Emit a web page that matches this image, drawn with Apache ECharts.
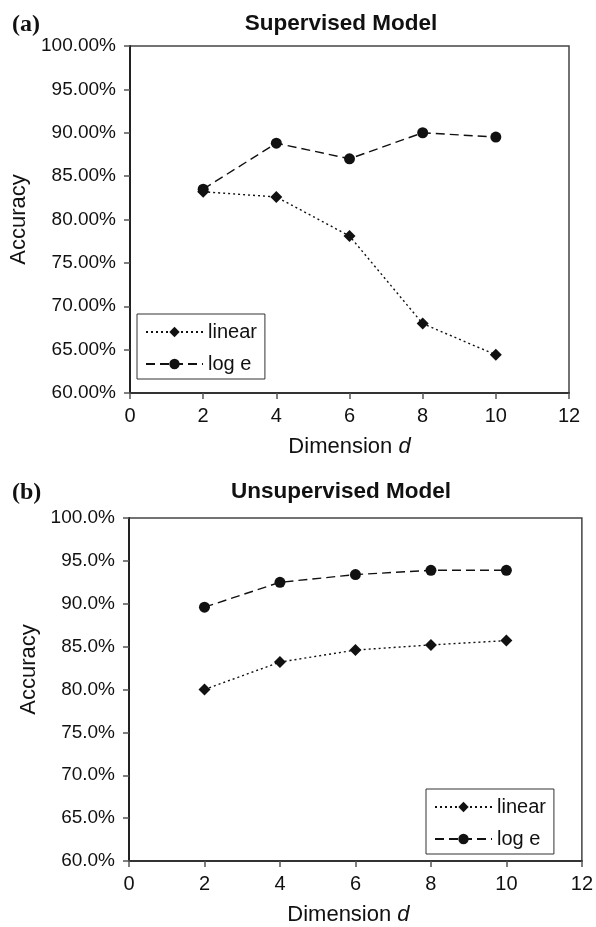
<!DOCTYPE html>
<html>
<head>
<meta charset="utf-8">
<script src="https://cdn.jsdelivr.net/npm/echarts@6/dist/echarts.min.js"></script>
<style>
  html, body { margin: 0; padding: 0; background: #fff; }
  #charts { width: 596px; height: 927px; }
</style>
</head>
<body>
<div id="charts"></div>
<script>
// dimension d values
const dims = [2, 4, 6, 8, 10];
// (a) supervised model, accuracy in %
const supLinear = [83.2, 82.6, 78.1, 68.0, 64.4];
const supLog = [83.5, 88.8, 87.0, 90.0, 89.5];
// (b) unsupervised model, accuracy in %
const unsupLinear = [80.0, 83.2, 84.6, 85.2, 85.7];
const unsupLog = [89.6, 92.5, 93.4, 93.9, 93.9];
const seriesNames = ['linear', 'log e'];

const font = 'Liberation Sans, Arial, Helvetica, sans-serif';
const serif = 'Liberation Serif, Times New Roman, serif';
const ink = '#111';

function pairs(vals) {
    return dims.map((d, i) => [d, vals[i]]);
}

function xAxis(idx, nameRightPad) {
    return {
        type: 'value', gridIndex: idx, min: 0, max: 12, interval: 2,
        name: 'Dimension {i|d}', nameLocation: 'middle', nameGap: 43,
        nameTextStyle: {
            fontFamily: font, fontSize: 22, color: ink,
            padding: [0, nameRightPad, 0, 0],
            rich: { i: { fontFamily: font, fontSize: 22, fontStyle: 'italic', color: ink } }
        },
        axisLine: { show: true, onZero: false, lineStyle: { color: '#333', width: 2 } },
        axisTick: { show: true, length: 6, lineStyle: { color: '#555', width: 1.5 } },
        axisLabel: { fontFamily: font, fontSize: 20, color: ink, margin: 13 },
        splitLine: { show: false }
    };
}

function yAxis(idx, decimals, gap, upShift) {
    return {
        type: 'value', gridIndex: idx, min: 60, max: 100, interval: 5,
        name: 'Accuracy', nameLocation: 'middle', nameGap: gap,
        nameTextStyle: { fontFamily: font, fontSize: 22, color: ink, padding: [0, 0, 0, upShift] },
        axisLine: { show: true, onZero: false, lineStyle: { color: '#222', width: 2 } },
        axisTick: { show: true, length: 6, lineStyle: { color: '#555', width: 1.5 } },
        axisLabel: {
            fontFamily: font, fontSize: 19, color: ink, margin: 14,
            formatter: v => v.toFixed(decimals) + '%'
        },
        splitLine: { show: false }
    };
}

function lineSeries(name, idx, vals) {
    const isLinear = name === 'linear';
    return {
        name: name, type: 'line', xAxisIndex: idx, yAxisIndex: idx,
        data: pairs(vals),
        symbol: isLinear ? 'diamond' : 'circle',
        symbolSize: isLinear ? 12 : 11,
        itemStyle: { color: ink },
        lineStyle: { color: ink, width: 1.4, type: isLinear ? [2, 3] : [9, 5] }
    };
}

function legend(left, top) {
    return {
        data: seriesNames, orient: 'vertical', left: left, top: top,
        itemWidth: 57, itemHeight: 13, itemGap: 12,
        padding: [8, 8, 5, 8],
        borderColor: '#333', borderWidth: 1,
        textStyle: { fontFamily: font, fontSize: 20, color: ink, lineHeight: 20 },
        selectedMode: false
    };
}

function title(text, left, top, size, family) {
    return {
        text: text, left: left, top: top, textAlign: family === serif ? 'left' : 'center',
        textStyle: { fontFamily: family, fontSize: size, fontWeight: 'bold', color: ink }
    };
}

let myChart = echarts.init(document.getElementById('charts'));
let option = {
    animation: false,
    backgroundColor: '#fff',
    title: [
        title('(a)', 7, 8, 24, serif),
        title('Supervised Model', 336, 7, 22.5, font),
        title('(b)', 7, 476, 24, serif),
        title('Unsupervised Model', 336, 475, 22.5, font)
    ],
    grid: [
        { left: 129, top: 46, width: 440, height: 347, show: true, borderColor: '#444', borderWidth: 1.5, backgroundColor: '#fff' },
        { left: 129, top: 518, width: 453, height: 349, show: true, borderColor: '#444', borderWidth: 1.5, backgroundColor: '#fff' }
    ],
    xAxis: [xAxis(0, 0), xAxis(1, 14)],
    yAxis: [yAxis(0, 2, 100, 0), yAxis(1, 1, 82, 40)],
    legend: [legend(137, 314), legend(426, 789)],
    series: [
        lineSeries('linear', 0, supLinear),
        lineSeries('log e', 0, supLog),
        lineSeries('linear', 1, unsupLinear),
        lineSeries('log e', 1, unsupLog)
    ]
};

option && myChart.setOption(option);
</script>
</body>
</html>
